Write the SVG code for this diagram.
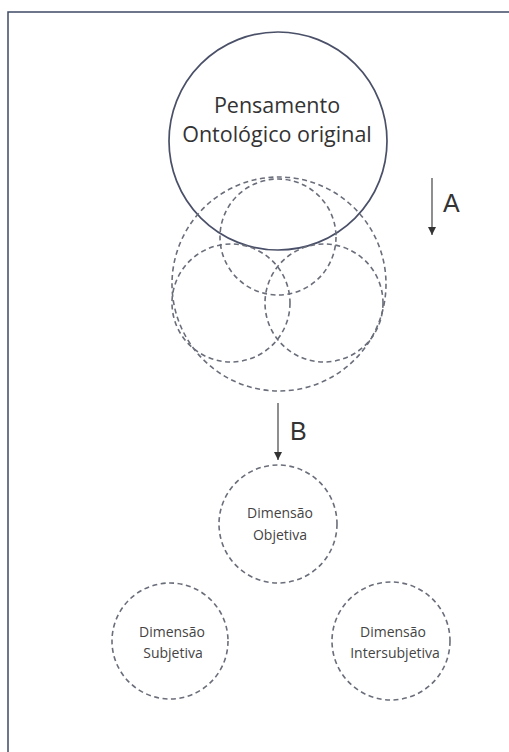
<svg xmlns="http://www.w3.org/2000/svg" width="509" height="752" viewBox="0 0 509 752">
<defs>
<style>
.solid{fill:none;stroke:#4a5068;stroke-width:1.7}
.dash{fill:none;stroke:#6a6e7a;stroke-width:1.6;stroke-dasharray:5 3.5}
.main{font-family:"Open Sans","DejaVu Sans",sans-serif;font-size:21.5px;fill:#333;text-anchor:middle}
.small{font-family:"Open Sans","DejaVu Sans",sans-serif;font-size:14px;fill:#444;text-anchor:middle}
.lbl{font-family:"Liberation Sans",Arial,sans-serif;font-size:25px;fill:#333}
.conn{stroke:#444;stroke-width:1.2;fill:none}
</style>
<marker id="ah" viewBox="0 0 10 10" refX="10" refY="5" markerWidth="8" markerHeight="8" markerUnits="userSpaceOnUse" orient="auto">
<path d="M0,0 L10,5 L0,10 z" fill="#333"/>
</marker>
</defs>
<rect width="509" height="752" fill="#fff"/>
<path d="M8,752 V12 H509" fill="none" stroke="#3e4a66" stroke-width="1.5"/>
<g id="pensamento">
<circle class="solid" cx="278" cy="141" r="109"/>
<text class="main" x="277" y="113">Pensamento</text>
<text class="main" x="277" y="142">Ontológico original</text>
</g>
<g id="venn">
<circle class="dash" cx="279" cy="284" r="107"/>
<circle class="dash" cx="278" cy="237" r="58"/>
<circle class="dash" cx="231" cy="303" r="59"/>
<circle class="dash" cx="324" cy="303" r="59"/>
</g>
<g id="objetiva">
<circle class="dash" cx="278" cy="524" r="59"/>
<text class="small" x="280" y="518">Dimensão</text>
<text class="small" x="280" y="540">Objetiva</text>
</g>
<g id="subjetiva">
<circle class="dash" cx="170" cy="641" r="58"/>
<text class="small" x="172" y="637">Dimensão</text>
<text class="small" x="173" y="658">Subjetiva</text>
</g>
<g id="intersubjetiva">
<circle class="dash" cx="391" cy="641" r="59"/>
<text class="small" x="393" y="637">Dimensão</text>
<text class="small" x="395" y="658">Intersubjetiva</text>
</g>
<g id="connectors">
<line class="conn" x1="432" y1="178" x2="432" y2="235" marker-end="url(#ah)"/>
<text class="lbl" x="443" y="212">A</text>
<line class="conn" x1="278" y1="403" x2="278" y2="460" marker-end="url(#ah)"/>
<text class="lbl" x="290" y="440">B</text>
</g>
</svg>
